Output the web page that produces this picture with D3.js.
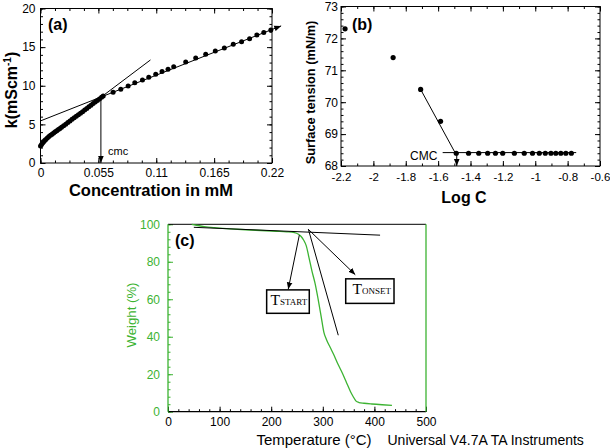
<!DOCTYPE html>
<html><head><meta charset="utf-8">
<script src="https://cdn.jsdelivr.net/npm/d3@7"></script>
<style>body{margin:0;background:#fff}svg{display:block}</style>
</head><body>
<script>
// ---------- DATA ----------
// Panel (a): conductivity vs concentration
const concA = [0,0.001,0.002,0.003,0.004,0.005,0.0065,0.008,0.0095,0.011,0.0125,0.014,0.0155,0.017,0.0185,0.020,0.022,0.024,0.026,0.028,0.030,0.032,0.034,0.036,0.038,0.040,0.042,0.044,0.046,0.048,0.050,0.052,0.054,0.056,0.058,
  0.0596,0.069,0.0763,0.0833,0.0896,0.0969,0.1029,0.1095,0.1155,0.1212,0.1266,0.138,0.1475,0.157,0.1661,0.1747,0.1832,0.1911,0.1987,0.2056,0.2122,0.2189];
const kA = [2.2,2.4,2.58,2.75,2.9,3.05,3.25,3.42,3.58,3.73,3.88,4.03,4.18,4.33,4.48,4.63,4.83,5.03,5.24,5.45,5.65,5.85,6.05,6.26,6.45,6.65,6.86,7.06,7.27,7.48,7.69,7.9,8.1,8.3,8.5,
  8.68,9.16,9.55,9.97,10.4,10.75,11.1,11.49,11.83,12.14,12.47,13.08,13.6,14.08,14.51,14.9,15.38,15.71,16.1,16.58,16.88,17.23];
const ticksXA = [0,0.055,0.11,0.165,0.22];
const tickLabelsXA = ["0","0.055","0.11","0.165","0.22"];
const ticksYA = [0,5,10,15,20];

// Panel (b): surface tension vs log C
const logCB = [-2.175,-1.878,-1.708,-1.585,-1.488,-1.412,-1.349,-1.294,-1.246,-1.201,-1.129,-1.068,-1.017,-0.975,-0.938,-0.903,-0.873,-0.842,-0.811,-0.777];
const gammaB = [72.3,71.4,70.4,69.4,68.4,68.4,68.4,68.4,68.4,68.4,68.4,68.4,68.4,68.4,68.4,68.4,68.4,68.4,68.4,68.4];
const ticksXB = [-2.2,-2,-1.8,-1.6,-1.4,-1.2,-1,-0.8,-0.6];
const ticksYB = [68,69,70,71,72,73];

// Panel (c): TGA weight vs temperature
const tempC = [46,55,70,90,120,150,180,210,230,245,252,258,263,268,273,279,285,291,297,302,307,314,322,330,338,346,354,359,364,370,380,395,415,434];
const weightC = [100,99.5,98.8,98.2,97.6,97.1,96.7,96.3,96.0,95.5,94.8,93.5,91.5,88.5,82.5,75,68.5,60,50.5,42.5,38.5,34.5,30,25,20.5,15.5,10.5,8,5.8,4.9,4.5,4.1,3.7,3.4];
const ticksXC = [0,100,200,300,400,500];
const ticksYC = [0,20,40,60,80,100];

// ---------- STYLE ----------
const NARROW = "'Liberation Sans Narrow','Arial Narrow',sans-serif";
const SANS = "'Liberation Sans',Arial,Helvetica,sans-serif";
const SERIF = "'Liberation Serif','Times New Roman',serif";
const GREEN = "#3cb332";

const svg = d3.select("body").append("svg").attr("width",610).attr("height",448);
const defs = svg.append("defs");
defs.append("marker").attr("id","arr").attr("viewBox","0 0 10 10").attr("refX",10).attr("refY",5)
  .attr("markerWidth",7).attr("markerHeight",7).attr("markerUnits","userSpaceOnUse").attr("orient","auto")
  .append("path").attr("d","M0,1 L10,5 L0,9 Z").attr("fill","#000");

function minors(domain, step){
  const out=[]; const n=Math.round((domain[1]-domain[0])/step);
  for(let i=0;i<=n;i++) out.push(+(domain[0]+i*step).toFixed(6));
  return out;
}
function boxAxes(g, x, y, o){
  const xd=x.domain(), yd=y.domain(); const xr=x.range(), yr=y.range();
  const mx = minors(xd,o.xMinor), my = minors(yd,o.yMinor);
  const minorStyle = s=>{s.select(".domain").remove(); s.selectAll("line").attr("stroke","#000");};
  g.append("g").attr("transform",`translate(0,${yr[0]})`).call(d3.axisBottom(x).tickValues(mx).tickSize(-2.5).tickFormat("")).call(minorStyle);
  g.append("g").attr("transform",`translate(0,${yr[1]})`).call(d3.axisTop(x).tickValues(mx).tickSize(-2.5).tickFormat("")).call(minorStyle);
  g.append("g").attr("transform",`translate(${xr[0]},0)`).call(d3.axisLeft(y).tickValues(my).tickSize(-2.5).tickFormat("")).call(minorStyle);
  g.append("g").attr("transform",`translate(${xr[1]},0)`).call(d3.axisRight(y).tickValues(my).tickSize(-2.5).tickFormat("")).call(minorStyle);
  const bx = g.append("g").attr("transform",`translate(0,${yr[0]})`)
    .call(d3.axisBottom(x).tickValues(o.xTicks).tickSize(-5).tickPadding(o.xPad).tickFormat((d,i)=>o.xLabels?o.xLabels[i]:String(d)));
  const tx = g.append("g").attr("transform",`translate(0,${yr[1]})`).call(d3.axisTop(x).tickValues(o.xTicks).tickSize(-5).tickFormat(""));
  const ly = g.append("g").attr("transform",`translate(${xr[0]},0)`)
    .call(d3.axisLeft(y).tickValues(o.yTicks).tickSize(-5).tickPadding(o.yPad).tickFormat(d=>String(d)));
  const ry = g.append("g").attr("transform",`translate(${xr[1]},0)`).call(d3.axisRight(y).tickValues(o.yTicks).tickSize(-5).tickFormat(""));
  [bx,tx,ly,ry].forEach(a=>{a.select(".domain").remove(); a.selectAll("line").attr("stroke","#000");
    a.selectAll("text").attr("font-family",NARROW).attr("fill","#000");});
  bx.selectAll("text").attr("font-size",o.fsx);
  ly.selectAll("text").attr("font-size",o.fsy);
  g.append("rect").attr("x",xr[0]).attr("y",yr[1]).attr("width",xr[1]-xr[0]).attr("height",yr[0]-yr[1])
    .attr("fill","none").attr("stroke","#000").attr("stroke-width",1);
}
function seg(g,x,y,p,q,arrow){
  const l=g.append("line").attr("x1",x(p[0])).attr("y1",y(p[1])).attr("x2",x(q[0])).attr("y2",y(q[1]))
    .attr("stroke","#000").attr("stroke-width",1);
  if(arrow) l.attr("marker-end","url(#arr)");
  return l;
}

// ---------- PANEL (a) ----------
const xA = d3.scaleLinear().domain([0,0.22]).range([40.5,272]);
const yA = d3.scaleLinear().domain([0,20]).range([163,8.5]);
const gA = svg.append("g");
boxAxes(gA,xA,yA,{xTicks:ticksXA,xLabels:tickLabelsXA,yTicks:ticksYA,xMinor:0.01375,yMinor:1,xPad:5,yPad:5,fsx:12,fsy:12});
seg(gA,xA,yA,[0,5.45],[0.2287,17.75],true);
seg(gA,xA,yA,[0.015,4.16],[0.1045,13.34],false);
seg(gA,xA,yA,[0.0574,8.4],[0.0574,0],true);
gA.selectAll("circle").data(concA.map((c,i)=>[c,kA[i]])).join("circle")
  .attr("cx",d=>xA(d[0])).attr("cy",d=>yA(d[1])).attr("r",2.5).attr("fill","#000");
gA.append("text").attr("x",108).attr("y",155).attr("font-family",NARROW).attr("font-size",11).text("cmc");
gA.append("text").attr("x",48).attr("y",29.5).attr("font-family",SANS).attr("font-weight","bold").attr("font-size",16).text("(a)");
gA.append("text").attr("x",151).attr("y",195.5).attr("text-anchor","middle").attr("font-family",NARROW)
  .attr("font-weight","bold").attr("font-size",16.5).text("Concentration in mM");
const ytA = gA.append("text").attr("transform","translate(16.5,90) rotate(-90)").attr("text-anchor","middle")
  .attr("font-family",SANS).attr("font-weight","bold").attr("font-size",16);
ytA.append("tspan").text("k(mScm");
ytA.append("tspan").attr("font-size",10).attr("dy",-6).text("-1");
ytA.append("tspan").attr("dy",6).text(")");

// ---------- PANEL (b) ----------
const xB = d3.scaleLinear().domain([-2.2,-0.6]).range([341,600]);
const yB = d3.scaleLinear().domain([68,73]).range([166,6.5]);
const gB = svg.append("g");
boxAxes(gB,xB,yB,{xTicks:ticksXB,yTicks:ticksYB,xMinor:0.1,yMinor:0.2,xPad:7,yPad:3,fsx:11.5,fsy:12});
seg(gB,xB,yB,[-1.708,70.4],[-1.488,68.35],false);
seg(gB,xB,yB,[-1.572,68.42],[-0.747,68.42],false);
seg(gB,xB,yB,[-1.485,68.4],[-1.485,68.0],true);
gB.selectAll("circle").data(logCB.map((c,i)=>[c,gammaB[i]])).join("circle")
  .attr("cx",d=>xB(d[0])).attr("cy",d=>yB(d[1])).attr("r",2.6).attr("fill","#000");
gB.append("text").attr("x",410).attr("y",159.5).attr("font-family",NARROW).attr("font-size",12).text("CMC");
gB.append("text").attr("x",352).attr("y",30).attr("font-family",SANS).attr("font-weight","bold").attr("font-size",16).text("(b)");
gB.append("text").attr("x",464).attr("y",203).attr("text-anchor","middle").attr("font-family",NARROW)
  .attr("font-weight","bold").attr("font-size",16).text("Log C");
gB.append("text").attr("transform","translate(314.5,92.5) rotate(-90)").attr("text-anchor","middle")
  .attr("font-family",SANS).attr("font-weight","bold").attr("font-size",12.8).text("Surface tension (mN/m)");

// ---------- PANEL (c) ----------
const xC = d3.scaleLinear().domain([0,500]).range([168,426]);
const yC = d3.scaleLinear().domain([0,100]).range([411.7,224.3]);
const gC = svg.append("g");
gC.append("g").attr("transform","translate(0,411.7)").call(d3.axisBottom(xC).tickValues(minors([0,500],20)).tickSize(-2.5).tickFormat(""))
  .call(s=>{s.select(".domain").remove(); s.selectAll("line").attr("stroke","#000");});
gC.append("g").attr("transform","translate(168,0)").call(d3.axisLeft(yC).tickValues(minors([0,100],4)).tickSize(-2.5).tickFormat(""))
  .call(s=>{s.select(".domain").remove(); s.selectAll("line").attr("stroke",GREEN);});
const bxC = gC.append("g").attr("transform","translate(0,411.7)")
  .call(d3.axisBottom(xC).tickValues(ticksXC).tickSize(-5).tickPadding(6).tickFormat(d=>String(d)));
bxC.select(".domain").remove(); bxC.selectAll("line").attr("stroke","#000");
bxC.selectAll("text").attr("font-family",NARROW).attr("font-size",12).attr("fill","#000");
const lyC = gC.append("g").attr("transform","translate(168,0)")
  .call(d3.axisLeft(yC).tickValues(ticksYC).tickSize(-5).tickPadding(8).tickFormat(d=>String(d)));
lyC.select(".domain").remove(); lyC.selectAll("line").attr("stroke",GREEN);
lyC.selectAll("text").attr("font-family",NARROW).attr("font-size",12).attr("fill",GREEN);
gC.append("line").attr("x1",xC(0)).attr("x2",xC(500)).attr("y1",yC(100)).attr("y2",yC(100)).attr("stroke","#000").attr("stroke-width",1);
gC.append("line").attr("x1",xC(0)).attr("x2",xC(500)).attr("y1",yC(0)).attr("y2",yC(0)).attr("stroke","#000").attr("stroke-width",1.2);
gC.append("line").attr("x1",xC(0)).attr("x2",xC(0)).attr("y1",yC(0)).attr("y2",yC(100)).attr("stroke",GREEN).attr("stroke-width",1.3);
gC.append("line").attr("x1",xC(500)).attr("x2",xC(500)).attr("y1",yC(0)).attr("y2",yC(100)).attr("stroke",GREEN).attr("stroke-width",1.3);
gC.append("path").datum(tempC.map((t,i)=>[t,weightC[i]]))
  .attr("d",d3.line().x(d=>xC(d[0])).y(d=>yC(d[1])).curve(d3.curveMonotoneX))
  .attr("fill","none").attr("stroke",GREEN).attr("stroke-width",1.3);
seg(gC,xC,yC,[50,98.4],[411,94.2],false);
seg(gC,xC,yC,[272,97.4],[330,40.8],false);
seg(gC,xC,yC,[254.5,94.2],[233,65.3],true);
seg(gC,xC,yC,[272,97.3],[363,73.1],true);
function tBox(x0,x1,w0,w1,sub,tx,ty){
  gC.append("rect").attr("x",xC(x0)).attr("y",yC(w0)).attr("width",xC(x1)-xC(x0)).attr("height",yC(w1)-yC(w0))
    .attr("fill","#fff").attr("stroke","#000").attr("stroke-width",1.5);
  const t = gC.append("text").attr("x",tx).attr("y",ty).attr("font-family",SERIF).attr("font-size",15.5);
  t.append("tspan").text("T");
  t.append("tspan").attr("font-size",9).text(sub);
}
tBox(191.2,273.8,65,52.5,"START",270.5,304.5);
tBox(344.4,438,70.9,57.8,"ONSET",352.5,293.5);
gC.append("text").attr("x",175).attr("y",245.5).attr("font-family",SANS).attr("font-weight","bold").attr("font-size",16).text("(c)");
gC.append("text").attr("x",314).attr("y",445).attr("text-anchor","middle").attr("font-family",NARROW).attr("font-size",15).text("Temperature (°C)");
gC.append("text").attr("x",387.5).attr("y",445).attr("font-family",NARROW).attr("font-size",14).text("Universal V4.7A TA Instruments");
gC.append("text").attr("transform","translate(136,315) rotate(-90)").attr("text-anchor","middle")
  .attr("font-family",SANS).attr("font-size",13.2).attr("fill",GREEN).text("Weight (%)");
</script>
</body></html>
